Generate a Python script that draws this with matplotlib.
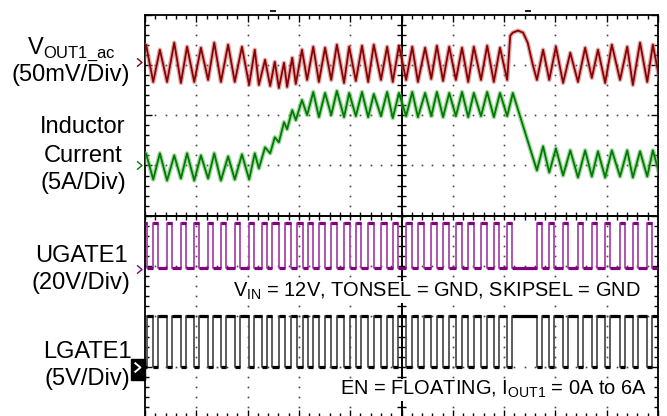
import numpy as np
import matplotlib
matplotlib.use('Agg')
import matplotlib.pyplot as plt
from matplotlib.ticker import MultipleLocator, NullFormatter
from matplotlib.path import Path
from matplotlib.patches import Rectangle
from matplotlib.collections import LineCollection

plt.rcParams['font.family'] = ['Liberation Sans', 'DejaVu Sans']
plt.rcParams['mathtext.fontset'] = 'custom'
plt.rcParams['mathtext.rm'] = 'Liberation Sans'

# ---- values (timebase 10us/div, 10 div) ----

# inductor current vertices (us, A)
t_il = [-1.0, 0.2, 1.6, 2.9, 4.3, 5.7, 7.0, 8.2, 9.6, 10.9, 12.3, 13.5, 14.8, 16.2, 17.5, 18.9, 20.3, 21.4,
        22.2, 23.4, 24.4, 25.3, 26.1, 27.1, 27.7, 28.7, 29.4, 30.6, 31.6,
        32.8, 33.9, 35.1, 36.3, 37.4, 38.8, 39.8, 41.1, 42.3, 43.5, 44.6, 46.0, 47.2, 48.3, 49.5, 50.9, 52.1, 53.2,
        54.6, 55.8, 56.9, 58.1, 59.3, 60.6, 61.8, 63.0, 64.1, 65.5, 66.7, 68.0, 69.2, 70.6, 71.7,
        76.4, 77.6, 78.8, 80.1, 81.5, 82.9, 84.4, 85.8, 87.1, 88.3, 89.7, 91.0, 92.6, 94.0, 95.1, 96.5, 97.9, 99.0, 100.4]
i_l = [-1.3, 1.2, -1.4, 1.2, -1.5, 1.0, -1.3, 1.2, -1.5, 1.0, -1.3, 1.2, -1.5, 0.9, -1.4, 1.1, -1.4, 1.2,
       -0.3, 1.8, 1.2, 2.8, 2.3, 4.3, 3.6, 5.5, 4.5, 6.5, 5.0,
       7.3, 4.8, 7.2, 5.0, 7.4, 4.8, 7.2, 4.9, 7.3, 4.8, 7.1, 4.9, 7.3, 4.7, 7.2, 4.9, 7.3, 4.8,
       7.2, 4.9, 7.3, 4.8, 7.2, 4.9, 7.3, 4.8, 7.2, 4.9, 7.3, 4.8, 7.2, 4.9, 7.2,
       -0.5, 1.9, -0.7, 1.7, -1.0, 1.5, -1.2, 1.5, -1.1, 1.4, -1.2, 1.5, -1.1, 1.5, -1.2, 1.4, -1.1, 1.5, -1.1]

# output voltage ripple vertices (us, mV ac)
t_vout = [-1.0, 0.2, 1.6, 2.9, 4.3, 5.7, 7.0, 8.2, 9.6, 10.9, 12.3, 13.5, 14.8, 16.2, 17.5, 18.9, 20.3, 21.4,
          22.2, 23.4, 24.4, 25.3, 26.1, 27.1, 27.7, 28.7, 29.4, 30.6, 31.6,
          32.8, 33.9, 35.1, 36.3, 37.4, 38.8, 39.8, 41.1, 42.3, 43.5, 44.6, 46.0, 47.2, 48.3, 49.5, 50.9, 52.1, 53.2,
          54.6, 55.8, 56.9, 58.1, 59.3, 60.6, 61.8, 63.0, 64.1, 65.5, 66.7, 68.0, 69.2, 70.6,
          71.2, 71.7, 72.7, 73.7, 74.6, 75.6,
          76.4, 77.6, 78.8, 80.1, 81.5, 82.9, 84.4, 85.8, 87.1, 88.3, 89.7, 91.0, 92.6, 94.0, 95.1, 96.5, 97.9, 99.0, 100.4]
v_out = [-20, 17, -20, 12, -20, 19, -21, 15, -20, 14, -18, 19, -20, 17, -20, 15, -23, 12,
         -23, 2, -24, 0, -26, -1, -25, 4, -22, 12, -18,
         15, -20, 14, -18, 17, -21, 15, -19, 16, -20, 17, -18, 15, -20, 16, -18, 15, -20,
         14, -17, 16, -19, 15, -18, 14, -20, 15, -18, 16, -20, 14, -18,
         26, 29, 31, 29, 19, -3,
         -18, 12, -18, 15, -21, 9, -20, 14, -16, 12, -21, 17, -18, 15, -23, 19, -20, 17, -20]

# high-side gate on / off instants (us); low-side gate is its complement
ug_on = [-0.8, 1.6, 4.3, 7.0, 9.6, 12.3, 14.8, 17.5, 20.3, 22.8, 24.8, 27.3, 29.6, 31.8,
         33.9, 36.3, 38.8, 41.1, 43.5, 46.0, 48.3, 50.9, 53.2, 55.8, 58.1, 60.6, 63.0, 65.5, 68.0, 70.6,
         76.4, 78.8, 81.5, 84.4, 87.1, 89.7, 92.6, 95.1, 97.9]
ug_off = [0.3, 2.6, 5.3, 8.0, 10.6, 13.3, 15.8, 18.5, 21.3, 23.8, 26.1, 28.5, 30.8, 32.8,
          35.0, 37.4, 39.9, 42.2, 44.6, 47.1, 49.4, 52.0, 54.3, 56.9, 59.2, 61.7, 64.1, 66.6, 69.1, 71.6,
          77.4, 79.8, 82.5, 85.4, 88.1, 90.7, 93.6, 96.1, 98.9]
ug_high, ug_low = 18.0, 0.0   # V
lg_high, lg_low = 5.0, 0.0    # V

# channel zero level (div from screen centre) and units per div
vout_pos, vout_scale = 3.06, 50.0
il_pos, il_scale = 1.0, 5.0
ug_pos, ug_scale = -1.04, 20.0
lg_pos, lg_scale = -3.0, 5.0

W, H = 667, 416
fig = plt.figure(figsize=(W / 100, H / 100), dpi=100)
ax = fig.add_axes([145 / W, 1 - 417 / H, 513 / W, 402.5 / H])
ax.set_xlim(0, 100)
ax.set_ylim(-4, 4)

# frame with inward ticks
ax.xaxis.set_major_locator(MultipleLocator(10))
ax.xaxis.set_minor_locator(MultipleLocator(2))
ax.yaxis.set_major_locator(MultipleLocator(1))
ax.yaxis.set_minor_locator(MultipleLocator(0.2))
ax.xaxis.set_major_formatter(NullFormatter())
ax.yaxis.set_major_formatter(NullFormatter())
ax.tick_params(which='both', direction='in', top=True, right=True, bottom=True, left=True,
               color='black', width=1.0)
ax.tick_params(which='major', length=5)
ax.tick_params(which='minor', length=3)
for s in ax.spines.values():
    s.set_linewidth(1.3)

# dotted graticule
gx = np.arange(0, 100.01, 2)
gy = np.arange(-4, 4.01, 0.2)
for xv in [10, 20, 30, 40, 60, 70, 80, 90]:
    ax.plot(np.full_like(gy, xv), gy, ls='none', marker='s', ms=1.2, mew=0, color='#444444', zorder=1)
for yv in [-3, -2, -1, 1, 2, 3]:
    ax.plot(gx, np.full_like(gx, yv), ls='none', marker='s', ms=1.2, mew=0, color='#444444', zorder=1)

# centre cross with ticks
ax.axvline(50, color='black', lw=1.4, zorder=2)
ax.axhline(0, color='black', lw=1.4, zorder=2)
segs = [[(x, -0.08), (x, 0.08)] for x in gx]
segs += [[(49.2, y), (50.8, y)] for y in gy]
ax.add_collection(LineCollection(segs, colors='black', linewidths=1.0, zorder=2))


def analog(t, v, pos, scale, dark, light):
    y = pos + np.asarray(v, dtype=float) / scale
    ax.plot(t, y, color=light, lw=3.2, alpha=0.55, zorder=3)
    ax.plot(t, y, color=dark, lw=1.3, zorder=4)


def gate(on, off, hi, lo, pos, scale, dark, light, invert=False):
    a, b = (lo, hi) if not invert else (hi, lo)
    t, v = [-3.0], [a]
    for t1, t2 in zip(on, off):
        t += [t1, t1, t2, t2]
        v += [a, b, b, a]
    t.append(103.0)
    v.append(a)
    y = pos + np.asarray(v) / scale
    ax.plot(t, y, color=light, lw=1.3, zorder=3)
    # darker, heavier levels
    starts = [-3.0] + list(off)
    ends = list(on) + [103.0]
    ax.hlines(np.full(len(on), pos + b / scale), on, off, color=dark, lw=2.3, zorder=4)
    ax.hlines(np.full(len(starts), pos + a / scale), starts, ends, color=dark, lw=2.3, zorder=4)


analog(t_vout, v_out, vout_pos, vout_scale, '#8b0000', '#c46a6a')
analog(t_il, i_l, il_pos, il_scale, '#007a00', '#5cb85c')
gate(ug_on, ug_off, ug_high, ug_low, ug_pos, ug_scale, '#800080', '#a848a8')
gate(ug_on, ug_off, lg_high, lg_low, lg_pos, lg_scale, '#000000', '#505050', invert=True)

# channel reference markers on the left edge
chev = Path([(-0.6, 1.0), (0.6, 0.0), (-0.6, -1.0)])
yt = ax.get_yaxis_transform()
for pos, c in [(vout_pos, '#8b0000'), (il_pos, '#007a00'), (ug_pos - 0.02, '#850085')]:
    ax.plot([-0.012], [pos], marker=chev, ms=6, mfc='none', mec=c, mew=1.0, transform=yt, clip_on=False)
ax.add_patch(Rectangle((-0.0273, -3.265), 0.0273, 0.418, transform=yt, color='black', clip_on=False, zorder=5))
ax.plot([-0.0155], [-3.0], marker=chev, ms=7, mfc='none', mec='white', mew=1.4, transform=yt,
        clip_on=False, zorder=6)

# trigger marks above the frame
ax.plot([24.9], [4.06], marker='_', ms=4, mew=1.5, color='#222222', clip_on=False)
ax.plot([74.6], [4.06], marker='_', ms=4, mew=1.5, color='#222222', clip_on=False)

# channel labels
lab = dict(ha='center', va='baseline', fontsize=17, color='black')
fig.text(71 / W, 1 - 53.5 / H, r'V$_{\mathrm{OUT1\_ac}}$', **lab)
fig.text(71 / W, 1 - 80.7 / H, '(50mV/Div)', **lab)
fig.text(83 / W, 1 - 133 / H, 'Inductor', **lab)
fig.text(83 / W, 1 - 162 / H, 'Current', **lab)
fig.text(83 / W, 1 - 189.5 / H, '(5A/Div)', **lab)
fig.text(81 / W, 1 - 262 / H, 'UGATE1', **lab)
fig.text(81 / W, 1 - 289 / H, '(20V/Div)', **lab)
fig.text(87 / W, 1 - 358 / H, 'LGATE1', **lab)
fig.text(87 / W, 1 - 385 / H, '(5V/Div)', **lab)

# test conditions, on a white patch that hides the graticule behind them
note = dict(ha='right', va='baseline', fontsize=14.4, color='black', transform=fig.transFigure,
            bbox=dict(facecolor='white', edgecolor='none', pad=0.3), zorder=10, clip_on=False)
ax.text(640.7 / W, 1 - 297 / H, r'V$_{\mathrm{IN}}$ = 12V, TONSEL = GND, SKIPSEL = GND', **note)
ax.text(646.7 / W, 1 - 395 / H, r'EN = FLOATING, I$_{\mathrm{OUT1}}$ = 0A to 6A', **note)

fig.savefig('out.png', dpi=100)
